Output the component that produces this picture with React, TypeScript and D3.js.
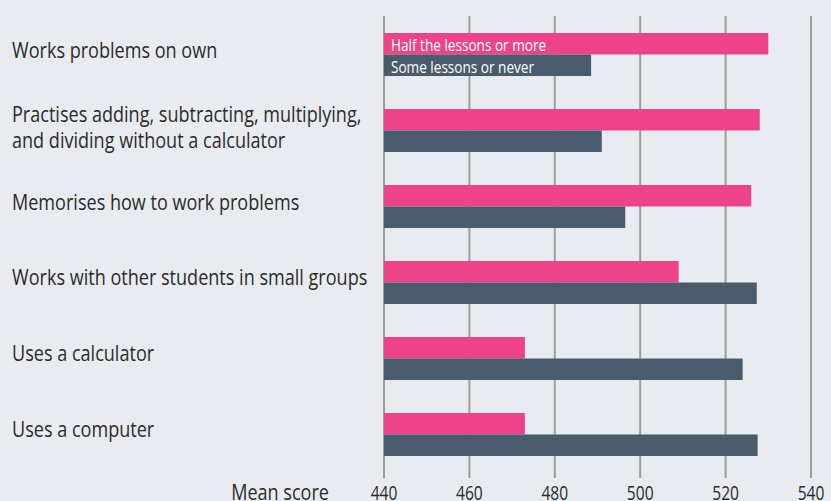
import React from "react";
import * as d3 from "d3";

const categories: string[][] = [
  ["Works problems on own"],
  ["Practises adding, subtracting, multiplying,", "and dividing without a calculator"],
  ["Memorises how to work problems"],
  ["Works with other students in small groups"],
  ["Uses a calculator"],
  ["Uses a computer"],
];
const seriesNames = ["Half the lessons or more", "Some lessons or never"];
const halfOrMore = [530, 528, 526, 509, 473, 473];
const someOrNever = [488.5, 491, 496.5, 527.3, 524, 527.5];
const ticks = [440, 460, 480, 500, 520, 540];
const axisTitle = "Mean score";

const W = 831;
const H = 501;
const FONT = "'Open Sans', sans-serif";
const colors = ["#ee4389", "#4a5c6c"];
const TEXT = "#2b2b2b";

export default function App() {
  const keys = categories.map((_, i) => String(i));
  const x = d3.scaleLinear().domain([440, 540]).range([384, 811]);
  const y = d3.scaleBand<string>().domain(keys).range([33, 456]).paddingInner(0.434).paddingOuter(0);
  const sub = d3.scaleBand<string>().domain(["0", "1"]).range([0, y.bandwidth()]);
  const series = [halfOrMore, someOrNever];

  return (
    <svg width={W} height={H} style={{ position: "absolute", left: 0, top: 0, background: "#e8ecf1" }}>
      <rect x={0} y={0} width={W} height={H} fill="#e8ecf1" />
      {ticks.map((t) => (
        <line key={t} x1={x(t)} x2={x(t)} y1={16} y2={478} stroke="#9d9d9d" strokeWidth={2} />
      ))}
      {keys.map((k, i) =>
        series.map((s, j) => (
          <rect
            key={k + "-" + j}
            x={x(440)}
            y={(y(k) as number) + (sub(String(j)) as number)}
            width={x(s[i]) - x(440)}
            height={sub.bandwidth()}
            fill={colors[j]}
          />
        ))
      )}
      {seriesNames.map((n, j) => (
        <text
          key={n}
          transform={`translate(${x(440) + 7},${(y("0") as number) + (sub(String(j)) as number) + sub.bandwidth() - 3.5}) scale(0.85,1)`}
          fill="#ffffff"
          fontFamily={FONT}
          fontSize={16}
        >
          {n}
        </text>
      ))}
      {categories.map((lines, i) => {
        const cy = (y(String(i)) as number) + y.bandwidth() / 2;
        const lh = 26;
        const base = lines.length === 1 ? cy + 3 : cy - 9;
        return (
          <g key={i}>
            {lines.map((l, li) => (
              <text
                key={li}
                transform={`translate(12,${base + li * lh}) scale(0.86,1)`}
                fontFamily={FONT}
                fontSize={21}
                fill={TEXT}
              >
                {l}
              </text>
            ))}
          </g>
        );
      })}
      {ticks.map((t) => (
        <text
          key={"l" + t}
          transform={`translate(${x(t)},499.5) scale(0.76,1)`}
          textAnchor="middle"
          fontFamily={FONT}
          fontSize={20.5}
          fill={TEXT}
        >
          {t}
        </text>
      ))}
      <text
        transform="translate(329,499.5) scale(0.86,1)"
        textAnchor="end"
        fontFamily={FONT}
        fontSize={21}
        fill={TEXT}
      >
        {axisTitle}
      </text>
    </svg>
  );
}
